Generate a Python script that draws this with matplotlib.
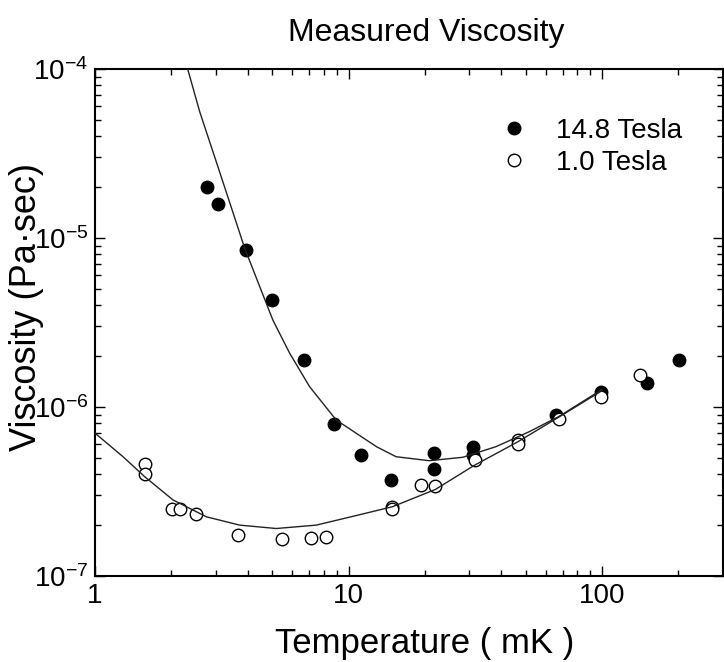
import matplotlib
matplotlib.use("Agg")
import matplotlib.pyplot as plt
from matplotlib.ticker import NullFormatter, LogLocator

plt.rcParams["font.family"] = ["Liberation Sans", "DejaVu Sans"]
plt.rcParams["mathtext.fontset"] = "custom"
plt.rcParams["mathtext.rm"] = "Liberation Sans"
plt.rcParams["mathtext.it"] = "Liberation Sans:italic"

# 14.8 Tesla measurements (T in mK, viscosity in Pa*sec)
hi_t = [2.77, 3.06, 3.93, 5.01, 6.65, 8.75, 11.2, 14.7, 21.7, 21.7, 31.0, 31.0,
        65.9, 99.1, 150, 201]
hi_v = [2.01e-5, 1.60e-5, 8.5e-6, 4.3e-6, 1.90e-6, 7.96e-7, 5.18e-7, 3.68e-7,
        5.32e-7, 4.31e-7, 5.76e-7, 5.2e-7, 9.0e-7, 1.22e-6, 1.39e-6, 1.89e-6]

# 1.0 Tesla measurements
lo_t = [1.57, 1.57, 2.02, 2.17, 2.50, 3.67, 5.48, 7.09, 8.12, 14.8, 14.8, 19.3,
        22.0, 31.4, 46.6, 46.6, 67.9, 99.1, 141.5]
lo_v = [4.58e-7, 4.0e-7, 2.49e-7, 2.49e-7, 2.33e-7, 1.75e-7, 1.65e-7, 1.67e-7,
        1.71e-7, 2.57e-7, 2.5e-7, 3.47e-7, 3.41e-7, 4.85e-7, 6.4e-7, 6.0e-7,
        8.5e-7, 1.15e-6, 1.54e-6]

# fitted curves
fit_hi_t = [2.32, 2.59, 3.01, 3.90, 5.03, 5.86, 7.02, 8.94, 12.9, 15.4, 20.8,
            28.2, 38.1, 51.6, 67.7, 100]
fit_hi_v = [1.0e-4, 5.57e-5, 2.82e-5, 8.65e-6, 3.27e-6, 2.08e-6, 1.32e-6, 8.38e-7,
            5.82e-7, 5.08e-7, 4.81e-7, 5.04e-7, 5.82e-7, 7.14e-7, 8.8e-7, 1.27e-6]
fit_lo_t = [1.0, 1.29, 1.57, 2.03, 2.75, 3.72, 5.19, 7.46, 11.4, 14.9, 22.0,
            31.3, 46.4, 67.7, 100]
fit_lo_v = [7.0e-7, 5.08e-7, 3.87e-7, 2.82e-7, 2.24e-7, 2.0e-7, 1.91e-7, 2.0e-7,
            2.33e-7, 2.57e-7, 3.25e-7, 4.51e-7, 6.21e-7, 8.73e-7, 1.25e-6]

x_ticks = [1, 10, 100]
x_labels = ["1", "10", "100"]
y_ticks = [1e-7, 1e-6, 1e-5, 1e-4]
y_labels = [r"$10^{-7}$", r"$10^{-6}$", r"$10^{-5}$", r"$10^{-4}$"]

W, H = 724, 662
fig = plt.figure(figsize=(W / 100, H / 100), dpi=100)
ax = fig.add_axes([95 / W, 1 - 576 / H, 628 / W, 507 / H])
ax.set_xscale("log")
ax.set_yscale("log")
ax.set_xlim(1, 300)
ax.set_ylim(1e-7, 1e-4)

ax.plot(hi_t, hi_v, "o", color="black", markersize=9, zorder=3,
        label="14.8 Tesla")
ax.plot(lo_t, lo_v, "o", markerfacecolor="white", markeredgecolor="black",
        markeredgewidth=1.0, markersize=9, zorder=4, label="1.0 Tesla")
ax.plot(fit_hi_t, fit_hi_v, "-", color="#222222", linewidth=1.0, zorder=5)
ax.plot(fit_lo_t, fit_lo_v, "-", color="#222222", linewidth=1.0, zorder=5)

ax.set_xticks(x_ticks)
ax.set_xticklabels(x_labels)
ax.set_yticks(y_ticks)
ax.set_yticklabels(y_labels)
ax.xaxis.set_minor_locator(LogLocator(base=10, subs=range(2, 10)))
ax.yaxis.set_minor_locator(LogLocator(base=10, subs=range(2, 10)))
ax.xaxis.set_minor_formatter(NullFormatter())
ax.yaxis.set_minor_formatter(NullFormatter())
ax.tick_params(which="both", direction="in", top=True, right=True,
               labelsize=20, pad=5)
ax.tick_params(which="major", length=7, width=1.0)
ax.tick_params(which="minor", length=4, width=1.0)
for s in ax.spines.values():
    s.set_linewidth(1.5)

ax.legend(loc="upper left", bbox_to_anchor=(0.645, 0.903), frameon=False,
          fontsize=20, handlelength=1.0, handletextpad=1.0, labelspacing=0.2,
          borderpad=0, borderaxespad=0)

fig.text(426 / W, 1 - 33 / H, "Measured Viscosity", fontsize=23,
         ha="center", va="center")
fig.text(425 / W, 1 - 644 / H, "Temperature ( mK )", fontsize=25,
         ha="center", va="center")
fig.text(27 / W, 1 - 307 / H, "Viscosity (Pa\u00b7sec)", fontsize=26,
         ha="center", va="center", rotation=90)

fig.savefig("out.png", dpi=100)
